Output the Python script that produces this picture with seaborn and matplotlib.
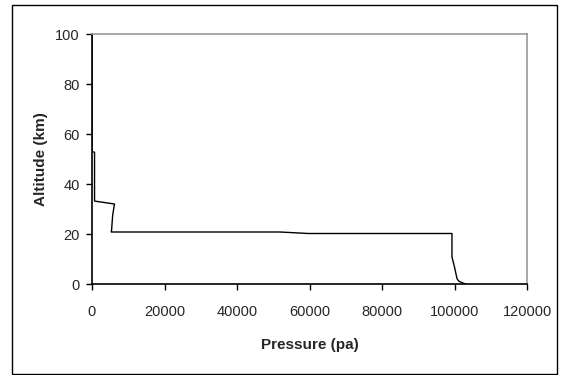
import matplotlib
matplotlib.use("Agg")
import matplotlib.pyplot as plt
import seaborn as sns
import pandas as pd
from matplotlib.patches import Rectangle

pressure = [0, 0, 700, 700, 1000, 6200, 5700, 5400, 5300, 51850, 59750, 99300, 99300, 100000, 100700, 101200, 103000]
altitude = [100, 53, 52.7, 33.2, 33.1, 32.0, 27.5, 21.5, 20.8, 20.8, 20.2, 20.2, 10.8, 6.8, 2.1, 1.1, 0]

xticks = [0, 20000, 40000, 60000, 80000, 100000, 120000]
yticks = [0, 20, 40, 60, 80, 100]

sns.set_style("white")
plt.rcParams['font.family'] = ['Liberation Sans', 'DejaVu Sans']

df = pd.DataFrame({"Pressure (pa)": pressure, "Altitude (km)": altitude})

fig = plt.figure(figsize=(5.62, 3.75), dpi=100)
ax = fig.add_axes([92/562, 1 - 284/375, (527-92)/562, (284-34)/375])
sns.lineplot(data=df, x="Pressure (pa)", y="Altitude (km)", sort=False, estimator=None,
             color="black", linewidth=1.0, ax=ax)
ax.set_xlim(0, 120000)
ax.set_ylim(0, 100)
ax.set_xticks(xticks)
ax.set_yticks(yticks)
ax.set_xticklabels([str(t) for t in xticks], fontsize=10.5)
ax.set_yticklabels([str(t) for t in yticks], fontsize=10.5)
ax.tick_params(axis='x', direction='out', length=4, width=1, color='black', pad=11, bottom=True)
ax.tick_params(axis='y', direction='out', length=4, width=1, color='black', pad=5, left=True)
for s in ['top', 'right']:
    ax.spines[s].set_color('#999999')
    ax.spines[s].set_linewidth(1.2)
for s in ['left', 'bottom']:
    ax.spines[s].set_color('black')
    ax.spines[s].set_linewidth(1.2)
ax.set_xlabel("Pressure (pa)", fontsize=11, fontweight='bold', labelpad=14)
ax.set_ylabel("Altitude (km)", fontsize=11, fontweight='bold', labelpad=5)

fig.patches.append(Rectangle((12/562, 1/375), (557-12)/562, (370-1)/375, transform=fig.transFigure,
                             fill=False, edgecolor='black', linewidth=1.0))
fig.savefig("out.png", dpi=100)
